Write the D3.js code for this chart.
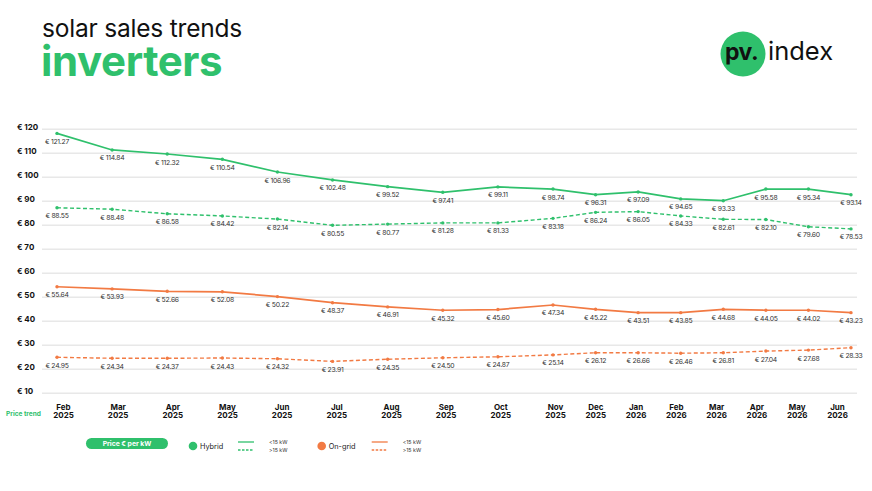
<!DOCTYPE html>
<html>
<head>
<meta charset="utf-8">
<script src="https://cdn.jsdelivr.net/npm/d3@7"></script>
<style>
    body { margin: 0; background: #fff; }
    svg { display: block; font-family: Inter, "Noto Sans", sans-serif; }
</style>
</head>
<body>
<svg id="chart" width="872" height="491"></svg>
<script>
// Months on the x axis
const months = ['Feb', 'Mar', 'Apr', 'May', 'Jun', 'Jul', 'Aug', 'Sep', 'Oct', 'Nov', 'Dec',
                'Jan', 'Feb', 'Mar', 'Apr', 'May', 'Jun'];
const years = ['2025', '2025', '2025', '2025', '2025', '2025', '2025', '2025', '2025', '2025', '2025',
               '2026', '2026', '2026', '2026', '2026', '2026'];

const yTicks = [10, 20, 30, 40, 50, 60, 70, 80, 90, 100, 110, 120];

// Plotted line positions (as drawn in the source chart, € per kW)
const hybridLow = [118.3, 111.4, 109.7, 107.5, 102.2, 98.9, 96.1, 93.75, 96.0, 95.1, 92.75, 93.9, 91.0, 90.25, 95.1, 95.1, 92.75];
const hybridHigh = [87.3, 86.7, 84.8, 83.9, 82.6, 80.0, 80.5, 81.0, 81.0, 82.9, 85.4, 85.7, 83.9, 82.5, 82.4, 79.4, 78.5];
const ongridLow = [54.4, 53.5, 52.5, 52.3, 50.3, 47.75, 46.0, 44.6, 44.9, 46.8, 45.0, 43.6, 43.6, 45.0, 44.6, 44.6, 43.6];
const ongridHigh = [25.0, 24.6, 24.6, 24.7, 24.4, 23.3, 24.2, 24.8, 25.2, 26.0, 26.9, 26.9, 26.7, 26.9, 27.6, 28.0, 29.0];

// Printed value labels
const hybridLowLabels = [121.27, 114.84, 112.32, 110.54, 106.96, 102.48, 99.52, 97.41, 99.11, 98.74, 96.31, 97.09, 94.65, 93.33, 95.58, 95.34, 93.14];
const hybridHighLabels = [88.55, 88.48, 86.58, 84.42, 82.14, 80.55, 80.77, 81.28, 81.33, 83.18, 86.24, 86.05, 84.33, 82.61, 82.10, 79.60, 78.53];
const ongridLowLabels = [55.64, 53.93, 52.66, 52.08, 50.22, 48.37, 46.91, 45.32, 45.60, 47.34, 45.22, 43.51, 43.85, 44.68, 44.05, 44.02, 43.23];
const ongridHighLabels = [24.95, 24.34, 24.37, 24.43, 24.32, 23.91, 24.35, 24.50, 24.87, 25.14, 26.12, 26.66, 26.46, 26.81, 27.04, 27.68, 28.33];

const GREEN = '#2fc06c';
const ORANGE = '#f27a43';

const series = [
    { values: hybridLow, labels: hybridLowLabels, color: GREEN, dashed: false },
    { values: hybridHigh, labels: hybridHighLabels, color: GREEN, dashed: true },
    { values: ongridLow, labels: ongridLowLabels, color: ORANGE, dashed: false },
    { values: ongridHigh, labels: ongridHighLabels, color: ORANGE, dashed: true }
];

const svg = d3.select('#chart');

// Scales (2026 months are drawn tighter in the source)
const x = d3.scaleLinear().domain([0, 9, 16]).range([57, 553, 851]);
const xLabel = d3.scaleLinear().domain([0, 9, 16]).range([63, 555, 837]);
const y = d3.scaleLinear().domain([10, 120]).range([393.3, 129.3]);

// Title
svg.append('text')
    .attr('x', 42).attr('y', 37)
    .attr('font-size', 24.5).attr('fill', '#111')
    .attr('letter-spacing', -0.2)
    .text('solar sales trends');
svg.append('text')
    .attr('x', 41).attr('y', 76)
    .attr('font-size', 42).attr('font-weight', 700).attr('fill', GREEN)
    .attr('letter-spacing', -0.4)
    .text('inverters');

// Logo
const logo = svg.append('g');
logo.append('circle').attr('cx', 743).attr('cy', 54).attr('r', 22.5).attr('fill', GREEN);
logo.append('text')
    .attr('x', 725).attr('y', 59.5)
    .attr('font-size', 23).attr('font-weight', 700).attr('fill', '#111')
    .attr('letter-spacing', -0.5)
    .text('pv.');
logo.append('text')
    .attr('x', 768).attr('y', 59.5)
    .attr('font-size', 25.5).attr('fill', '#111')
    .text('index');

// Gridlines
svg.append('g')
    .selectAll('line')
    .data(yTicks)
    .join('line')
    .attr('x1', 42).attr('x2', 857)
    .attr('y1', d => y(d)).attr('y2', d => y(d))
    .attr('stroke', '#e8e8e8')
    .attr('stroke-width', 1.5);

// Y axis labels
const yAxis = svg.append('g')
    .attr('transform', 'translate(17,0)')
    .call(d3.axisRight(y).tickValues(yTicks).tickSize(0).tickPadding(0).tickFormat(d => `€ ${d}`));
yAxis.select('.domain').remove();
yAxis.selectAll('text')
    .attr('font-family', 'Inter, sans-serif')
    .attr('font-size', 8)
    .attr('font-weight', 700)
    .attr('fill', '#111')
    .attr('dy', '0.05em');

// X axis labels
const xAxis = svg.append('g')
    .attr('transform', 'translate(0,400)')
    .call(d3.axisBottom(xLabel).tickValues(d3.range(months.length)).tickSize(0).tickFormat(''));
xAxis.select('.domain').remove();
xAxis.selectAll('.tick text')
    .attr('font-family', 'Inter, sans-serif')
    .attr('font-size', 8)
    .attr('font-weight', 700)
    .attr('fill', '#111')
    .attr('y', 0).attr('dy', 0)
    .each(function(d) {
        const t = d3.select(this);
        t.append('tspan').attr('x', 0).attr('y', 10).text(months[d]);
        t.append('tspan').attr('x', 0).attr('y', 18).text(years[d]);
    });

svg.append('text')
    .attr('x', 6).attr('y', 415.5)
    .attr('font-size', 6.5).attr('font-weight', 700).attr('fill', GREEN)
    .text('Price trend');

// Lines, points and value labels
const line = d3.line()
    .x((d, i) => x(i))
    .y(d => y(d));

series.forEach(s => {
    const g = svg.append('g');
    g.append('path')
        .datum(s.values)
        .attr('d', line)
        .attr('fill', 'none')
        .attr('stroke', s.color)
        .attr('stroke-width', s.dashed ? 1.4 : 1.7)
        .attr('stroke-dasharray', s.dashed ? '4,2.5' : null);

    g.selectAll('circle')
        .data(s.values)
        .join('circle')
        .attr('cx', (d, i) => x(i))
        .attr('cy', d => y(d))
        .attr('r', 1.7)
        .attr('fill', s.color);

    g.selectAll('text')
        .data(s.values)
        .join('text')
        .attr('x', (d, i) => x(i))
        .attr('y', d => y(d) + 10.5)
        .attr('text-anchor', 'middle')
        .attr('font-size', 6.8)
        .attr('fill', '#333')
        .attr('letter-spacing', -0.25)
        .text((d, i) => `€ ${s.labels[i].toFixed(2)}`);
});

// Legend
const legend = svg.append('g');
legend.append('rect')
    .attr('x', 86).attr('y', 438).attr('width', 82).attr('height', 11).attr('rx', 5.5)
    .attr('fill', GREEN);
legend.append('text')
    .attr('x', 127).attr('y', 446)
    .attr('text-anchor', 'middle')
    .attr('font-size', 6.8).attr('font-weight', 700).attr('fill', '#fff')
    .text('Price € per kW');

const legendItems = [
    { name: 'Hybrid', color: GREEN, cx: 193 },
    { name: 'On-grid', color: ORANGE, cx: 321.7 }
];

legendItems.forEach(item => {
    legend.append('circle')
        .attr('cx', item.cx).attr('cy', 446).attr('r', 4.3)
        .attr('fill', item.color);
    legend.append('text')
        .attr('x', item.cx + 7).attr('y', 448.5)
        .attr('font-size', 7.3).attr('fill', '#222')
        .text(item.name);

    const lx = item.cx + (item.name === 'Hybrid' ? 45 : 50);
    legend.append('line')
        .attr('x1', lx).attr('x2', lx + 16).attr('y1', 442).attr('y2', 442)
        .attr('stroke', item.color).attr('stroke-width', 1.3);
    legend.append('line')
        .attr('x1', lx).attr('x2', lx + 16).attr('y1', 450).attr('y2', 450)
        .attr('stroke', item.color).attr('stroke-width', 1.3)
        .attr('stroke-dasharray', '2.5,1.5');
    legend.append('text')
        .attr('x', lx + 31).attr('y', 444)
        .attr('font-size', 5.3).attr('fill', '#333')
        .text('<15 kW');
    legend.append('text')
        .attr('x', lx + 31).attr('y', 452)
        .attr('font-size', 5.3).attr('fill', '#333')
        .text('>15 kW');
});
</script>
</body>
</html>
